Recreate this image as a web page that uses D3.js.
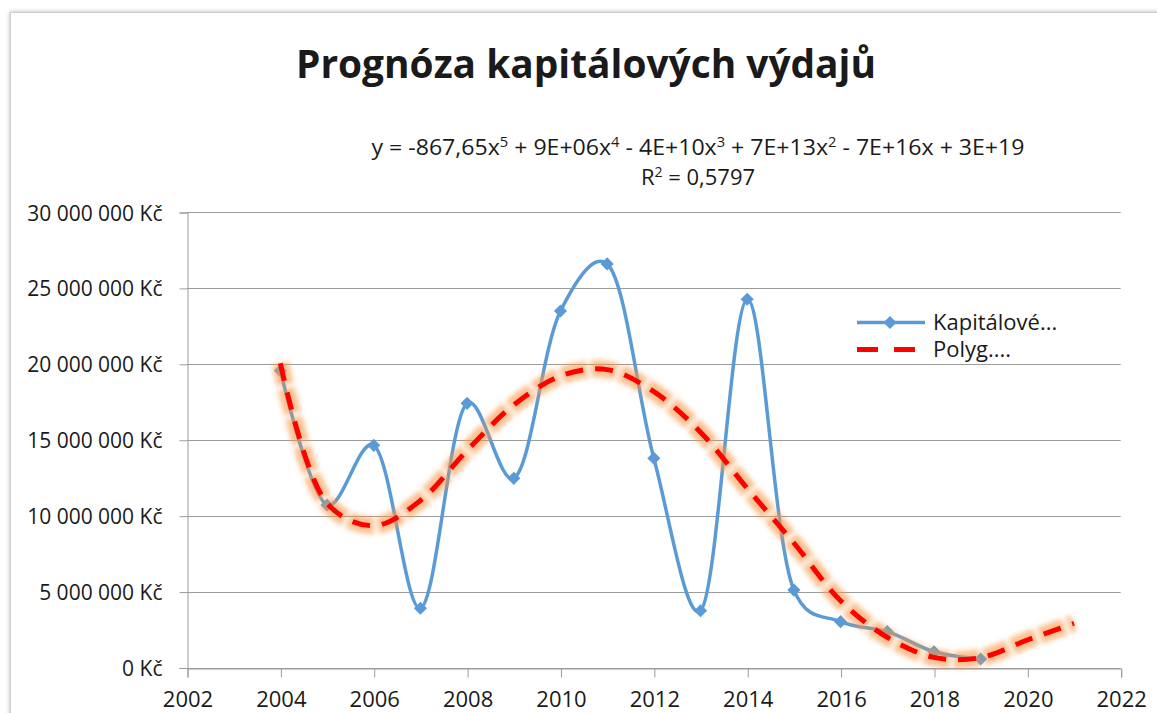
<!DOCTYPE html>
<html>
<head>
<meta charset="utf-8">
<script src="https://cdn.jsdelivr.net/npm/d3@7"></script>
<style>
  body { margin: 0; background: #fff; }
  text { font-family: "Open Sans", sans-serif; fill: #1a1a1a; }
</style>
</head>
<body>
<div id="chart-container"></div>
<script>
// values (Kč)
const years = [2004, 2005, 2006, 2007, 2008, 2009, 2010, 2011, 2012, 2013, 2014, 2015, 2016, 2017, 2018, 2019]
const capitalSpend = [19550000, 10700000, 14630000, 3900000, 17400000, 12460000, 23480000, 26580000,
    13780000, 3740000, 24250000, 5100000, 3020000, 2360000, 1040000, 560000]

// polynomial trendline as drawn in the reference
const trendYears = [2004, 2005, 2006, 2007, 2008, 2009, 2010, 2011, 2012, 2013, 2014, 2015, 2016, 2017, 2018, 2019, 2020, 2021]
const trendValues = [20040000, 10810000, 9340000, 11000000, 14300000, 17290000, 19200000, 19620000, 18170000,
    15500000, 11800000, 8200000, 4400000, 1990000, 670000, 650000, 1810000, 2910000]

const xTicks = [2002, 2004, 2006, 2008, 2010, 2012, 2014, 2016, 2018, 2020, 2022]
const yTicks = [0, 5000000, 10000000, 15000000, 20000000, 25000000, 30000000]

const titleText = 'Prognóza kapitálových výdajů'
const legendLabels = ['Kapitálové...', 'Polyg....']
// equation pieces: [text, superscript]
const eqParts = [['y = -867,65x', '5'], [' + 9E+06x', '4'], [' - 4E+10x', '3'], [' + 7E+13x', '2'], [' - 7E+16x + 3E+19', null]]

const width = 1157, height = 713
const blue = '#5b9bd5', red = '#ff0000'

const svg = d3.select('#chart-container')
    .append('svg')
    .attr('width', width)
    .attr('height', height)

const defs = svg.append('defs')
const shadow = defs.append('filter').attr('id', 'frameShadow')
    .attr('x', '-5%').attr('y', '-5%').attr('width', '110%').attr('height', '110%')
shadow.append('feDropShadow').attr('dx', 0).attr('dy', 0).attr('stdDeviation', 2)
    .attr('flood-color', '#777').attr('flood-opacity', 0.6)

const glow = defs.append('filter').attr('id', 'glow')
    .attr('x', '-10%').attr('y', '-10%').attr('width', '120%').attr('height', '120%')
glow.append('feGaussianBlur').attr('in', 'SourceGraphic').attr('stdDeviation', 2.8)

// chart frame
svg.append('rect')
    .attr('x', 10.5).attr('y', 12.5)
    .attr('width', 1200).attr('height', 800)
    .attr('fill', '#fff')
    .attr('stroke', '#cfcfcf')
    .attr('filter', 'url(#frameShadow)')

const x = d3.scaleLinear().domain([2002, 2022]).range([187, 1120.7])
const y = d3.scaleLinear().domain([0, 30000000]).range([667.5, 212])

const czk = d3.formatLocale({ decimal: ',', thousands: ' ', grouping: [3], currency: ['', ' Kč'] })
const fmt = czk.format('$,.0f')

// gridlines
svg.append('g')
    .selectAll('line')
    .data(yTicks)
    .join('line')
    .attr('x1', x(2002)).attr('x2', x(2022))
    .attr('y1', d => Math.round(y(d)) + 0.5).attr('y2', d => Math.round(y(d)) + 0.5)
    .attr('stroke', '#9c9c9c')

// y axis
const yAxis = svg.append('g')
    .attr('transform', 'translate(' + (x(2002) + 0.5) + ',0.5)')
    .call(d3.axisLeft(y).tickValues(yTicks).tickSize(8).tickPadding(17).tickFormat(fmt))
yAxis.selectAll('.domain, line').attr('stroke', '#9c9c9c')
yAxis.selectAll('text')
    .style('font-family', '"Open Sans", sans-serif')
    .style('font-size', '21px')
    .attr('fill', '#1a1a1a')
    .attr('dy', '0.36em')

// x axis
const xAxis = svg.append('g')
    .attr('transform', 'translate(0.5,' + (Math.round(y(0)) + 0.5) + ')')
    .call(d3.axisBottom(x).tickValues(xTicks).tickSize(9).tickPadding(14).tickFormat(d3.format('d')))
xAxis.selectAll('.domain, line').attr('stroke', '#9c9c9c')
xAxis.selectAll('text')
    .style('font-family', '"Open Sans", sans-serif')
    .style('font-size', '22px')
    .attr('fill', '#1a1a1a')

// capital expenditure series (smoothed like Excel)
const seriesPts = years.map((yr, i) => [yr, capitalSpend[i]])
const smoothLine = d3.line()
    .x(d => x(d[0]))
    .y(d => y(d[1]))
    .curve(d3.curveCatmullRom.alpha(0.25))

svg.append('path')
    .datum(seriesPts)
    .attr('d', smoothLine)
    .attr('fill', 'none')
    .attr('stroke', blue)
    .attr('stroke-width', 3.5)

const diamond = d3.symbol().type(d3.symbolDiamond2).size(110)
svg.append('g')
    .selectAll('path')
    .data(seriesPts)
    .join('path')
    .attr('transform', d => 'translate(' + x(d[0]) + ',' + y(d[1]) + ')')
    .attr('d', diamond)
    .attr('fill', blue)

// trendline with orange glow
const trendPts = trendYears.map((yr, i) => [yr, trendValues[i]])
const trendLine = d3.line()
    .x(d => x(d[0]))
    .y(d => y(d[1]))
    .curve(d3.curveCatmullRom)

svg.append('path')
    .datum(trendPts)
    .attr('d', trendLine)
    .attr('fill', 'none')
    .attr('stroke', '#f79646')
    .attr('stroke-opacity', 0.6)
    .attr('stroke-width', 17)
    .attr('stroke-dasharray', '26,4')
    .attr('stroke-dashoffset', 4)
    .attr('filter', 'url(#glow)')

svg.append('path')
    .datum(trendPts)
    .attr('d', trendLine)
    .attr('fill', 'none')
    .attr('stroke', red)
    .attr('stroke-width', 5)
    .attr('stroke-dasharray', '18,12')

// title and equation
svg.append('text')
    .attr('x', 586).attr('y', 78)
    .attr('text-anchor', 'middle')
    .attr('textLength', 580)
    .attr('lengthAdjust', 'spacingAndGlyphs')
    .style('font-size', '40px')
    .style('font-weight', 'bold')
    .attr('fill', '#000')
    .text(titleText)

const eq = svg.append('text')
    .attr('x', 698).attr('y', 155)
    .attr('text-anchor', 'middle')
    .attr('textLength', 653)
    .attr('lengthAdjust', 'spacingAndGlyphs')
    .style('font-size', '22px')
let raised = false
eqParts.forEach(p => {
    eq.append('tspan').attr('dy', raised ? 8 : 0).text(p[0])
    raised = false
    if (p[1]) {
        eq.append('tspan').attr('dy', -8).style('font-size', '14px').text(p[1])
        raised = true
    }
})

const r2 = svg.append('text')
    .attr('x', 698).attr('y', 185)
    .attr('text-anchor', 'middle')
    .style('font-size', '22px')
r2.append('tspan').text('R')
r2.append('tspan').attr('dy', -8).style('font-size', '14px').text('2')
r2.append('tspan').attr('dy', 8).text(' = 0,5797')

// legend
const legend = svg.append('g').attr('transform', 'translate(857,0)')
legend.append('line')
    .attr('x1', 0).attr('x2', 68).attr('y1', 322.5).attr('y2', 322.5)
    .attr('stroke', blue).attr('stroke-width', 3.5)
legend.append('path')
    .attr('transform', 'translate(33,322.5)')
    .attr('d', diamond)
    .attr('fill', blue)
legend.append('line')
    .attr('x1', 0).attr('x2', 60).attr('y1', 349.5).attr('y2', 349.5)
    .attr('stroke', red).attr('stroke-width', 5)
    .attr('stroke-dasharray', '21,16')
legend.selectAll('text')
    .data(legendLabels)
    .join('text')
    .attr('x', 76)
    .attr('y', (d, i) => 330 + i * 27)
    .style('font-size', '22px')
    .text(d => d)
</script>
</body>
</html>
